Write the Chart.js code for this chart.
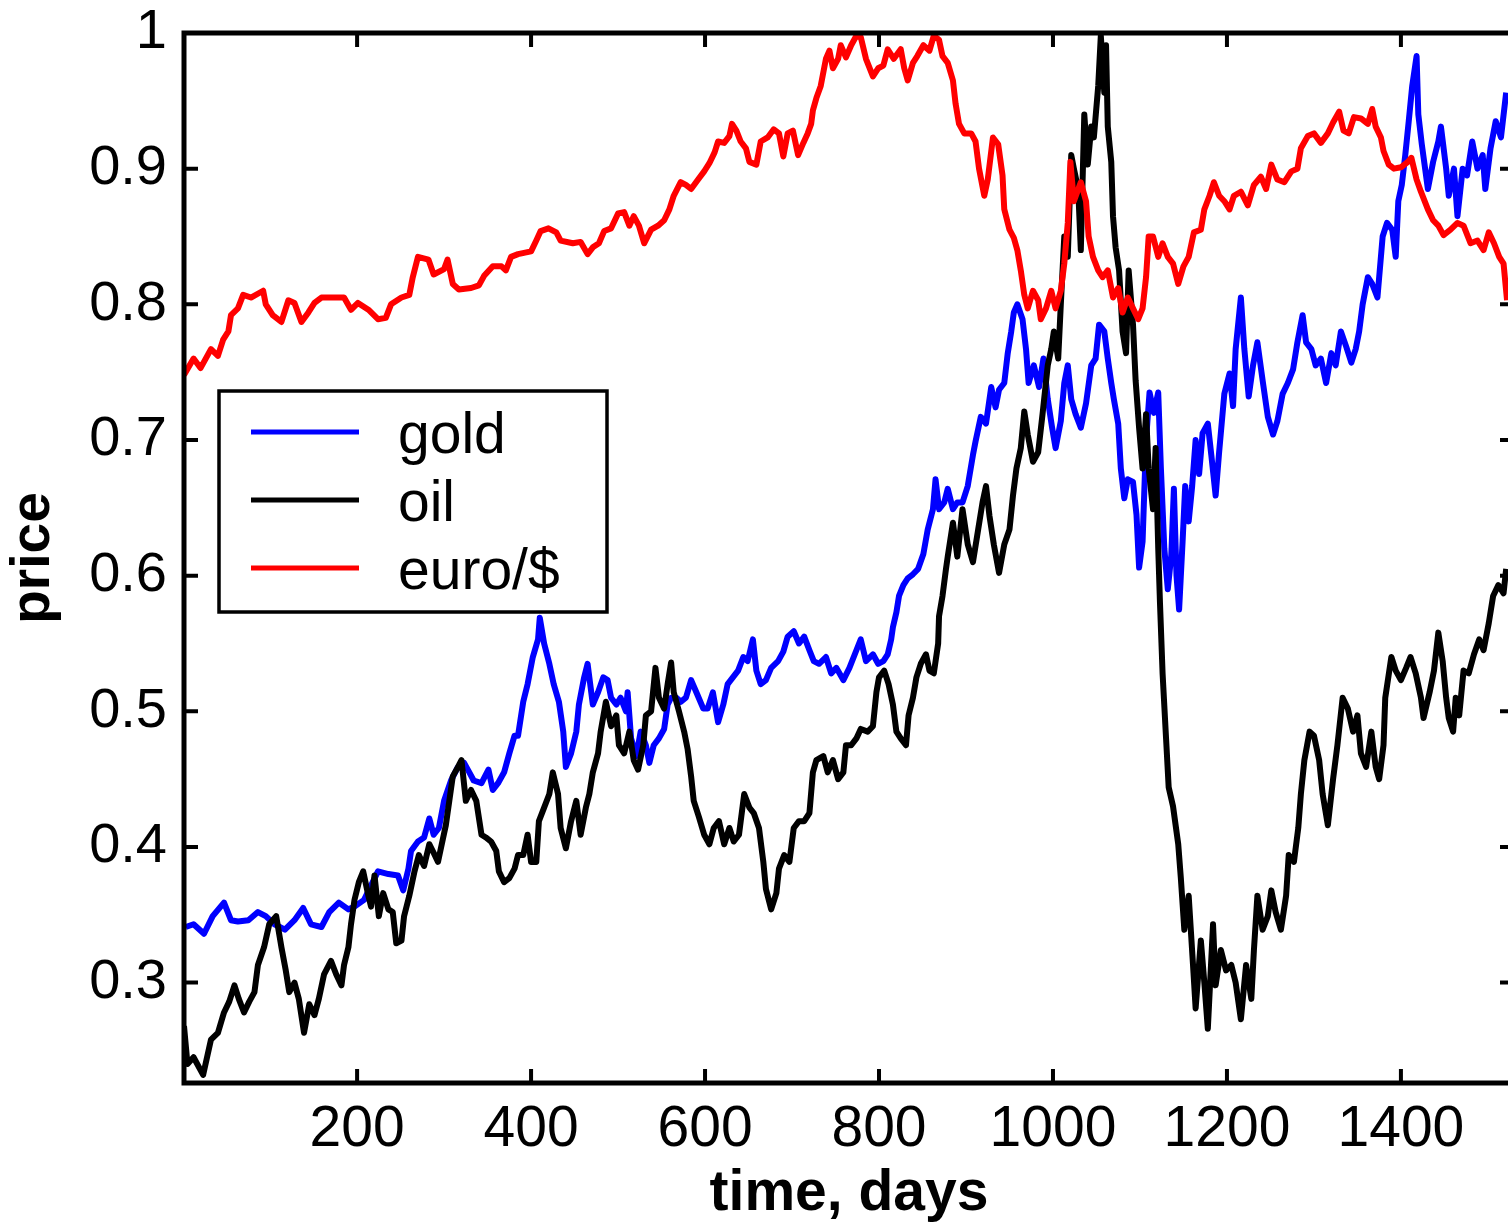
<!DOCTYPE html>
<html><head><meta charset="utf-8">
<script src="https://cdn.jsdelivr.net/npm/chart.js@4.4.1/dist/chart.umd.min.js"></script>
<style>html,body{margin:0;padding:0;background:#fff;overflow:hidden;}#wrap{width:1530px;height:1223px;}</style>
</head><body><div id="wrap"><canvas id="c" width="1530" height="1223"></canvas></div>
<script>
const seriesNames = ['gold', 'oil', 'euro/$'];
const seriesColors = ['#0000ff', '#000000', '#ff0000'];
const xTicks = [200, 400, 600, 800, 1000, 1200, 1400];
const yTicks = [0.3, 0.4, 0.5, 0.6, 0.7, 0.8, 0.9, 1];

// [day, price]
const gold = [[3,.341],[12,.343],[24,.336],[34,.349],[47,.359],[55,.346],[63,.345],[75,.346],[86,.352],[95,.349],[105,.343],[117,.339],[128,.346],[138,.355],[147,.343],[159,.341],[168,.352],[179,.359],[190,.354],[197,.356],[208,.361],[224,.382],[236,.380],[247,.379],[253,.368],[259,.384],[262,.397],[270,.404],[277,.407],[283,.421],[288,.409],[294,.414],[300,.434],[308,.449],[316,.459],[323,.462],[329,.455],[334,.449],[343,.447],[351,.457],[356,.442],[362,.447],[369,.455],[375,.469],[381,.482],[385,.482],[391,.507],[396,.520],[402,.540],[408,.553],[410,.569],[415,.550],[421,.535],[426,.520],[432,.507],[437,.485],[440,.459],[446,.469],[452,.485],[455,.505],[461,.525],[465,.535],[471,.505],[477,.514],[483,.525],[488,.523],[492,.510],[498,.505],[503,.510],[509,.500],[511,.514],[515,.480],[521,.467],[526,.485],[532,.475],[536,.462],[541,.475],[547,.480],[553,.487],[557,.505],[561,.510],[567,.510],[572,.507],[578,.510],[584,.523],[590,.514],[598,.502],[603,.502],[609,.514],[615,.492],[621,.505],[626,.520],[632,.525],[638,.530],[644,.540],[649,.537],[655,.553],[659,.530],[664,.520],[670,.523],[676,.532],[684,.537],[690,.544],[695,.555],[702,.559],[708,.550],[714,.555],[720,.545],[725,.537],[731,.535],[739,.540],[745,.528],[751,.532],[759,.523],[766,.532],[774,.545],[779,.553],[785,.537],[793,.542],[799,.535],[805,.537],[810,.542],[814,.553],[816,.562],[820,.573],[823,.585],[828,.593],[833,.598],[839,.601],[845,.605],[851,.616],[856,.634],[862,.649],[865,.671],[869,.649],[875,.654],[879,.664],[885,.649],[890,.654],[896,.654],[902,.666],[908,.689],[911,.699],[917,.717],[923,.712],[929,.739],[934,.724],[938,.737],[944,.742],[948,.764],[952,.780],[955,.794],[959,.800],[965,.789],[969,.767],[972,.742],[978,.755],[984,.739],[989,.760],[994,.730],[999,.709],[1003,.694],[1009,.714],[1013,.742],[1017,.755],[1021,.730],[1026,.719],[1032,.709],[1038,.727],[1044,.755],[1049,.760],[1053,.785],[1059,.780],[1063,.760],[1067,.742],[1070,.730],[1075,.712],[1078,.679],[1082,.657],[1086,.671],[1092,.669],[1096,.645],[1099,.606],[1103,.625],[1107,.700],[1111,.735],[1116,.720],[1121,.735],[1124,.680],[1128,.620],[1132,.590],[1136,.615],[1139,.664],[1142,.600],[1145,.575],[1149,.625],[1152,.666],[1156,.640],[1160,.666],[1164,.700],[1168,.675],[1172,.705],[1178,.712],[1182,.689],[1187,.659],[1191,.691],[1197,.734],[1203,.749],[1207,.725],[1210,.767],[1216,.805],[1220,.767],[1225,.732],[1230,.755],[1235,.772],[1241,.744],[1247,.717],[1253,.704],[1258,.714],[1264,.734],[1270,.742],[1276,.752],[1281,.772],[1287,.792],[1291,.772],[1297,.767],[1302,.755],[1308,.760],[1314,.742],[1320,.764],[1325,.755],[1331,.780],[1337,.769],[1343,.757],[1348,.767],[1352,.780],[1356,.800],[1362,.820],[1367,.815],[1373,.805],[1379,.850],[1384,.860],[1390,.855],[1394,.835],[1397,.876],[1401,.888],[1405,.910],[1409,.935],[1413,.961],[1418,.983],[1420,.940],[1424,.918],[1431,.885],[1437,.905],[1443,.920],[1446,.931],[1452,.900],[1455,.880],[1461,.900],[1465,.865],[1471,.900],[1476,.895],[1482,.920],[1488,.900],[1494,.910],[1497,.885],[1503,.915],[1509,.935],[1515,.923],[1521,.956]];

const oil = [[1,.268],[5,.240],[12,.245],[23,.232],[32,.258],[40,.263],[47,.278],[53,.286],[59,.298],[64,.288],[70,.278],[76,.286],[82,.293],[86,.313],[93,.326],[99,.343],[107,.349],[113,.326],[118,.309],[122,.293],[128,.300],[133,.288],[139,.263],[145,.284],[151,.276],[156,.288],[162,.306],[170,.316],[176,.306],[182,.298],[185,.313],[190,.326],[193,.343],[197,.361],[202,.374],[207,.382],[213,.364],[216,.356],[220,.379],[225,.349],[230,.366],[236,.354],[241,.352],[245,.329],[251,.331],[254,.349],[260,.364],[266,.382],[271,.394],[277,.386],[283,.402],[287,.397],[293,.389],[299,.407],[302,.416],[306,.434],[310,.452],[316,.459],[320,.464],[325,.434],[331,.442],[337,.434],[343,.409],[348,.407],[354,.404],[360,.397],[363,.382],[369,.374],[375,.377],[381,.384],[385,.394],[391,.394],[396,.409],[400,.389],[406,.389],[409,.419],[415,.429],[421,.439],[425,.455],[431,.439],[434,.414],[440,.399],[446,.419],[452,.434],[457,.409],[463,.429],[467,.439],[471,.455],[477,.469],[480,.485],[486,.507],[492,.489],[498,.497],[501,.475],[507,.469],[513,.485],[518,.464],[523,.457],[529,.475],[532,.497],[538,.500],[543,.532],[547,.510],[553,.502],[557,.520],[561,.536],[564,.514],[570,.500],[576,.485],[580,.472],[584,.452],[587,.434],[593,.422],[599,.409],[605,.402],[610,.414],[616,.419],[622,.402],[628,.414],[633,.404],[639,.409],[645,.439],[651,.429],[656,.425],[662,.414],[667,.389],[670,.369],[676,.354],[682,.366],[685,.384],[691,.394],[697,.389],[702,.414],[708,.419],[714,.419],[720,.425],[724,.455],[728,.464],[736,.467],[741,.455],[747,.464],[753,.450],[759,.455],[762,.475],[768,.475],[774,.480],[779,.487],[787,.485],[793,.489],[797,.514],[800,.525],[806,.530],[811,.520],[816,.505],[820,.485],[825,.480],[831,.475],[834,.497],[839,.510],[843,.525],[848,.535],[854,.542],[858,.530],[863,.528],[868,.550],[869,.570],[873,.585],[877,.605],[879,.614],[885,.639],[890,.614],[896,.649],[902,.623],[908,.610],[914,.634],[919,.654],[923,.666],[927,.644],[932,.623],[938,.602],[944,.623],[950,.634],[954,.659],[958,.679],[963,.694],[967,.721],[971,.704],[977,.684],[983,.691],[988,.719],[994,.755],[998,.767],[1001,.780],[1006,.760],[1009,.800],[1013,.850],[1017,.835],[1021,.910],[1024,.900],[1029,.885],[1032,.840],[1036,.940],[1040,.903],[1044,.931],[1047,.923],[1052,.961],[1055,.998],[1059,.956],[1061,.991],[1063,.931],[1067,.905],[1069,.865],[1072,.842],[1076,.825],[1080,.780],[1084,.764],[1087,.825],[1092,.785],[1095,.744],[1099,.709],[1103,.679],[1107,.719],[1110,.679],[1115,.649],[1118,.694],[1121,.620],[1123,.580],[1126,.528],[1130,.480],[1133,.444],[1138,.430],[1144,.402],[1147,.377],[1151,.339],[1156,.364],[1161,.313],[1164,.281],[1170,.331],[1174,.300],[1178,.266],[1184,.343],[1187,.298],[1193,.324],[1199,.309],[1205,.313],[1210,.300],[1216,.273],[1222,.313],[1228,.288],[1231,.324],[1235,.364],[1241,.339],[1247,.349],[1251,.368],[1256,.352],[1262,.339],[1268,.364],[1271,.394],[1277,.389],[1282,.414],[1285,.439],[1289,.464],[1295,.485],[1300,.482],[1306,.464],[1310,.439],[1316,.416],[1322,.450],[1327,.475],[1333,.510],[1339,.502],[1345,.485],[1350,.497],[1354,.469],[1360,.459],[1366,.485],[1371,.459],[1375,.450],[1380,.475],[1382,.510],[1389,.540],[1394,.530],[1400,.523],[1406,.532],[1411,.540],[1417,.528],[1423,.510],[1426,.495],[1433,.514],[1438,.530],[1443,.558],[1448,.537],[1452,.510],[1455,.495],[1460,.485],[1463,.510],[1467,.497],[1472,.530],[1478,.528],[1484,.542],[1490,.553],[1495,.545],[1501,.565],[1506,.585],[1512,.593],[1518,.587],[1521,.605]];

const euro = [[1,.748],[12,.760],[20,.753],[32,.767],[40,.762],[46,.774],[52,.780],[55,.792],[63,.797],[69,.807],[78,.805],[92,.810],[95,.800],[103,.792],[113,.787],[121,.803],[128,.801],[136,.787],[144,.794],[151,.801],[159,.805],[174,.805],[185,.805],[193,.796],[201,.801],[213,.796],[224,.789],[233,.790],[239,.800],[251,.805],[260,.807],[264,.820],[270,.835],[282,.833],[288,.822],[300,.826],[304,.833],[310,.815],[317,.811],[331,.812],[340,.814],[346,.821],[356,.828],[366,.828],[371,.825],[377,.835],[385,.837],[400,.839],[406,.847],[411,.854],[420,.856],[429,.853],[434,.847],[448,.845],[457,.846],[465,.837],[471,.842],[478,.845],[484,.854],[492,.856],[500,.867],[507,.868],[513,.858],[518,.865],[524,.858],[530,.845],[538,.855],[546,.858],[553,.862],[559,.870],[564,.880],[572,.890],[578,.888],[584,.885],[592,.892],[599,.898],[605,.904],[611,.912],[615,.920],[622,.919],[628,.924],[631,.933],[636,.928],[641,.920],[647,.915],[651,.905],[659,.903],[664,.920],[672,.923],[679,.929],[685,.926],[690,.909],[695,.926],[701,.928],[707,.910],[713,.919],[718,.926],[722,.933],[724,.943],[728,.952],[733,.961],[739,.981],[743,.987],[747,.974],[753,.981],[756,.991],[762,.982],[768,.991],[774,.998],[779,.997],[785,.981],[793,.968],[799,.974],[805,.976],[810,.988],[817,.981],[825,.988],[829,.974],[833,.965],[839,.978],[844,.983],[851,.991],[858,.987],[863,.998],[869,.995],[873,.983],[879,.978],[885,.965],[888,.948],[892,.933],[898,.926],[906,.926],[911,.920],[915,.900],[921,.880],[925,.892],[931,.923],[937,.918],[942,.895],[944,.870],[950,.855],[955,.849],[959,.840],[963,.825],[967,.807],[971,.797],[977,.810],[983,.803],[986,.789],[992,.797],[998,.810],[1003,.797],[1009,.810],[1013,.830],[1017,.860],[1020,.905],[1024,.876],[1032,.890],[1038,.876],[1041,.850],[1046,.835],[1052,.825],[1057,.820],[1063,.825],[1069,.805],[1075,.812],[1080,.794],[1086,.805],[1092,.797],[1098,.789],[1103,.797],[1107,.820],[1110,.850],[1115,.850],[1121,.835],[1126,.845],[1132,.835],[1138,.830],[1144,.815],[1150,.828],[1156,.835],[1162,.853],[1170,.855],[1174,.870],[1180,.880],[1185,.890],[1191,.880],[1197,.876],[1203,.870],[1208,.880],[1216,.883],[1224,.873],[1231,.888],[1239,.894],[1245,.885],[1251,.903],[1258,.892],[1266,.890],[1274,.898],[1281,.900],[1285,.915],[1293,.924],[1300,.926],[1308,.919],[1316,.926],[1322,.934],[1329,.942],[1334,.928],[1340,.926],[1346,.938],[1354,.937],[1362,.933],[1367,.944],[1371,.931],[1377,.923],[1380,.913],[1386,.903],[1392,.900],[1400,.901],[1408,.905],[1412,.908],[1418,.892],[1423,.883],[1431,.870],[1437,.862],[1443,.858],[1449,.851],[1457,.855],[1465,.860],[1472,.858],[1480,.845],[1488,.847],[1495,.840],[1501,.853],[1507,.845],[1513,.835],[1518,.830],[1522,.803]];

const FONT = "'Liberation Sans', Arial, Helvetica, sans-serif";
const toPts = arr => arr.map(p => ({x: p[0], y: p[1]}));

const framePlugin = {
  id: 'frame',
  afterDatasetsDraw(chart) {
    const {ctx, chartArea: a, scales: {x, y}} = chart;
    ctx.save();
    ctx.strokeStyle = '#000';
    ctx.lineWidth = 5;
    ctx.strokeRect(a.left, a.top, a.right - a.left, a.bottom - a.top);
    ctx.lineWidth = 4;
    ctx.beginPath();
    xTicks.forEach(v => {
      const px = x.getPixelForValue(v);
      ctx.moveTo(px, a.bottom); ctx.lineTo(px, a.bottom - 14);
      ctx.moveTo(px, a.top); ctx.lineTo(px, a.top + 14);
    });
    yTicks.forEach(v => {
      if (v >= 1) return;
      const py = y.getPixelForValue(v);
      ctx.moveTo(a.left, py); ctx.lineTo(a.left + 14, py);
      ctx.moveTo(a.right, py); ctx.lineTo(a.right - 14, py);
    });
    ctx.stroke();
    ctx.restore();
  }
};

const legendPlugin = {
  id: 'boxLegend',
  afterDraw(chart) {
    const {ctx} = chart;
    const bx = 219, by = 391, bw = 388, bh = 221;
    ctx.save();
    ctx.fillStyle = '#fff';
    ctx.fillRect(bx, by, bw, bh);
    ctx.strokeStyle = '#000';
    ctx.lineWidth = 3.5;
    ctx.strokeRect(bx, by, bw, bh);
    chart.data.datasets.forEach((ds, i) => {
      const ly = 432 + i * 68;
      ctx.strokeStyle = ds.borderColor;
      ctx.lineWidth = 5;
      ctx.beginPath(); ctx.moveTo(251, ly); ctx.lineTo(359, ly); ctx.stroke();
      ctx.fillStyle = '#000';
      ctx.font = '57px ' + FONT;
      ctx.textBaseline = 'alphabetic';
      ctx.textAlign = 'left';
      ctx.fillText(ds.label, 398, ly + 21);
    });
    ctx.restore();
  }
};

const datasets = [gold, oil, euro].map((s, i) => ({
  label: seriesNames[i],
  data: toPts(s),
  borderColor: seriesColors[i],
  backgroundColor: seriesColors[i],
  borderWidth: 6,
  borderJoinStyle: 'round',
  pointRadius: 0,
  tension: 0,
  fill: false,
  order: 3 - i
}));

const noPad = s => { s.paddingTop = 0; s.paddingBottom = 0; s.paddingLeft = 0; s.paddingRight = 0; };

new Chart(document.getElementById('c').getContext('2d'), {
  type: 'line',
  data: {datasets},
  options: {
    responsive: false,
    animation: false,
    devicePixelRatio: 1,
    layout: {padding: {top: 33, right: 16, left: 0, bottom: 0}},
    plugins: {legend: {display: false}, tooltip: {enabled: false}},
    scales: {
      x: {
        type: 'linear', min: 1, max: 1530,
        afterBuildTicks: s => { s.ticks = xTicks.map(v => ({value: v})); },
        afterFit: s => { s.height = 140; noPad(s); },
        grid: {display: false, drawTicks: false},
        border: {display: false},
        ticks: {color: '#000', font: {family: FONT, size: 57}, padding: 13, maxRotation: 0, autoSkip: false,
                callback: v => String(v)},
        title: {display: true, text: 'time, days', color: '#000',
                font: {family: FONT, size: 57, weight: 'bold', lineHeight: 1}, padding: {top: 0, bottom: 0}}
      },
      y: {
        type: 'linear', min: 0.226, max: 1,
        afterBuildTicks: s => { s.ticks = yTicks.map(v => ({value: v})); },
        afterFit: s => { s.width = 184; noPad(s); },
        grid: {display: false, drawTicks: false},
        border: {display: false},
        ticks: {color: '#000', font: {family: FONT, size: 56}, padding: 17,
                callback: v => (v >= 1 ? '1' : v.toFixed(1))},
        title: {display: true, text: 'price', color: '#000',
                font: {family: FONT, size: 55, weight: 'bold', lineHeight: 1}, padding: {top: 6, bottom: 0}}
      }
    }
  },
  plugins: [framePlugin, legendPlugin]
});
</script>
</body></html>
